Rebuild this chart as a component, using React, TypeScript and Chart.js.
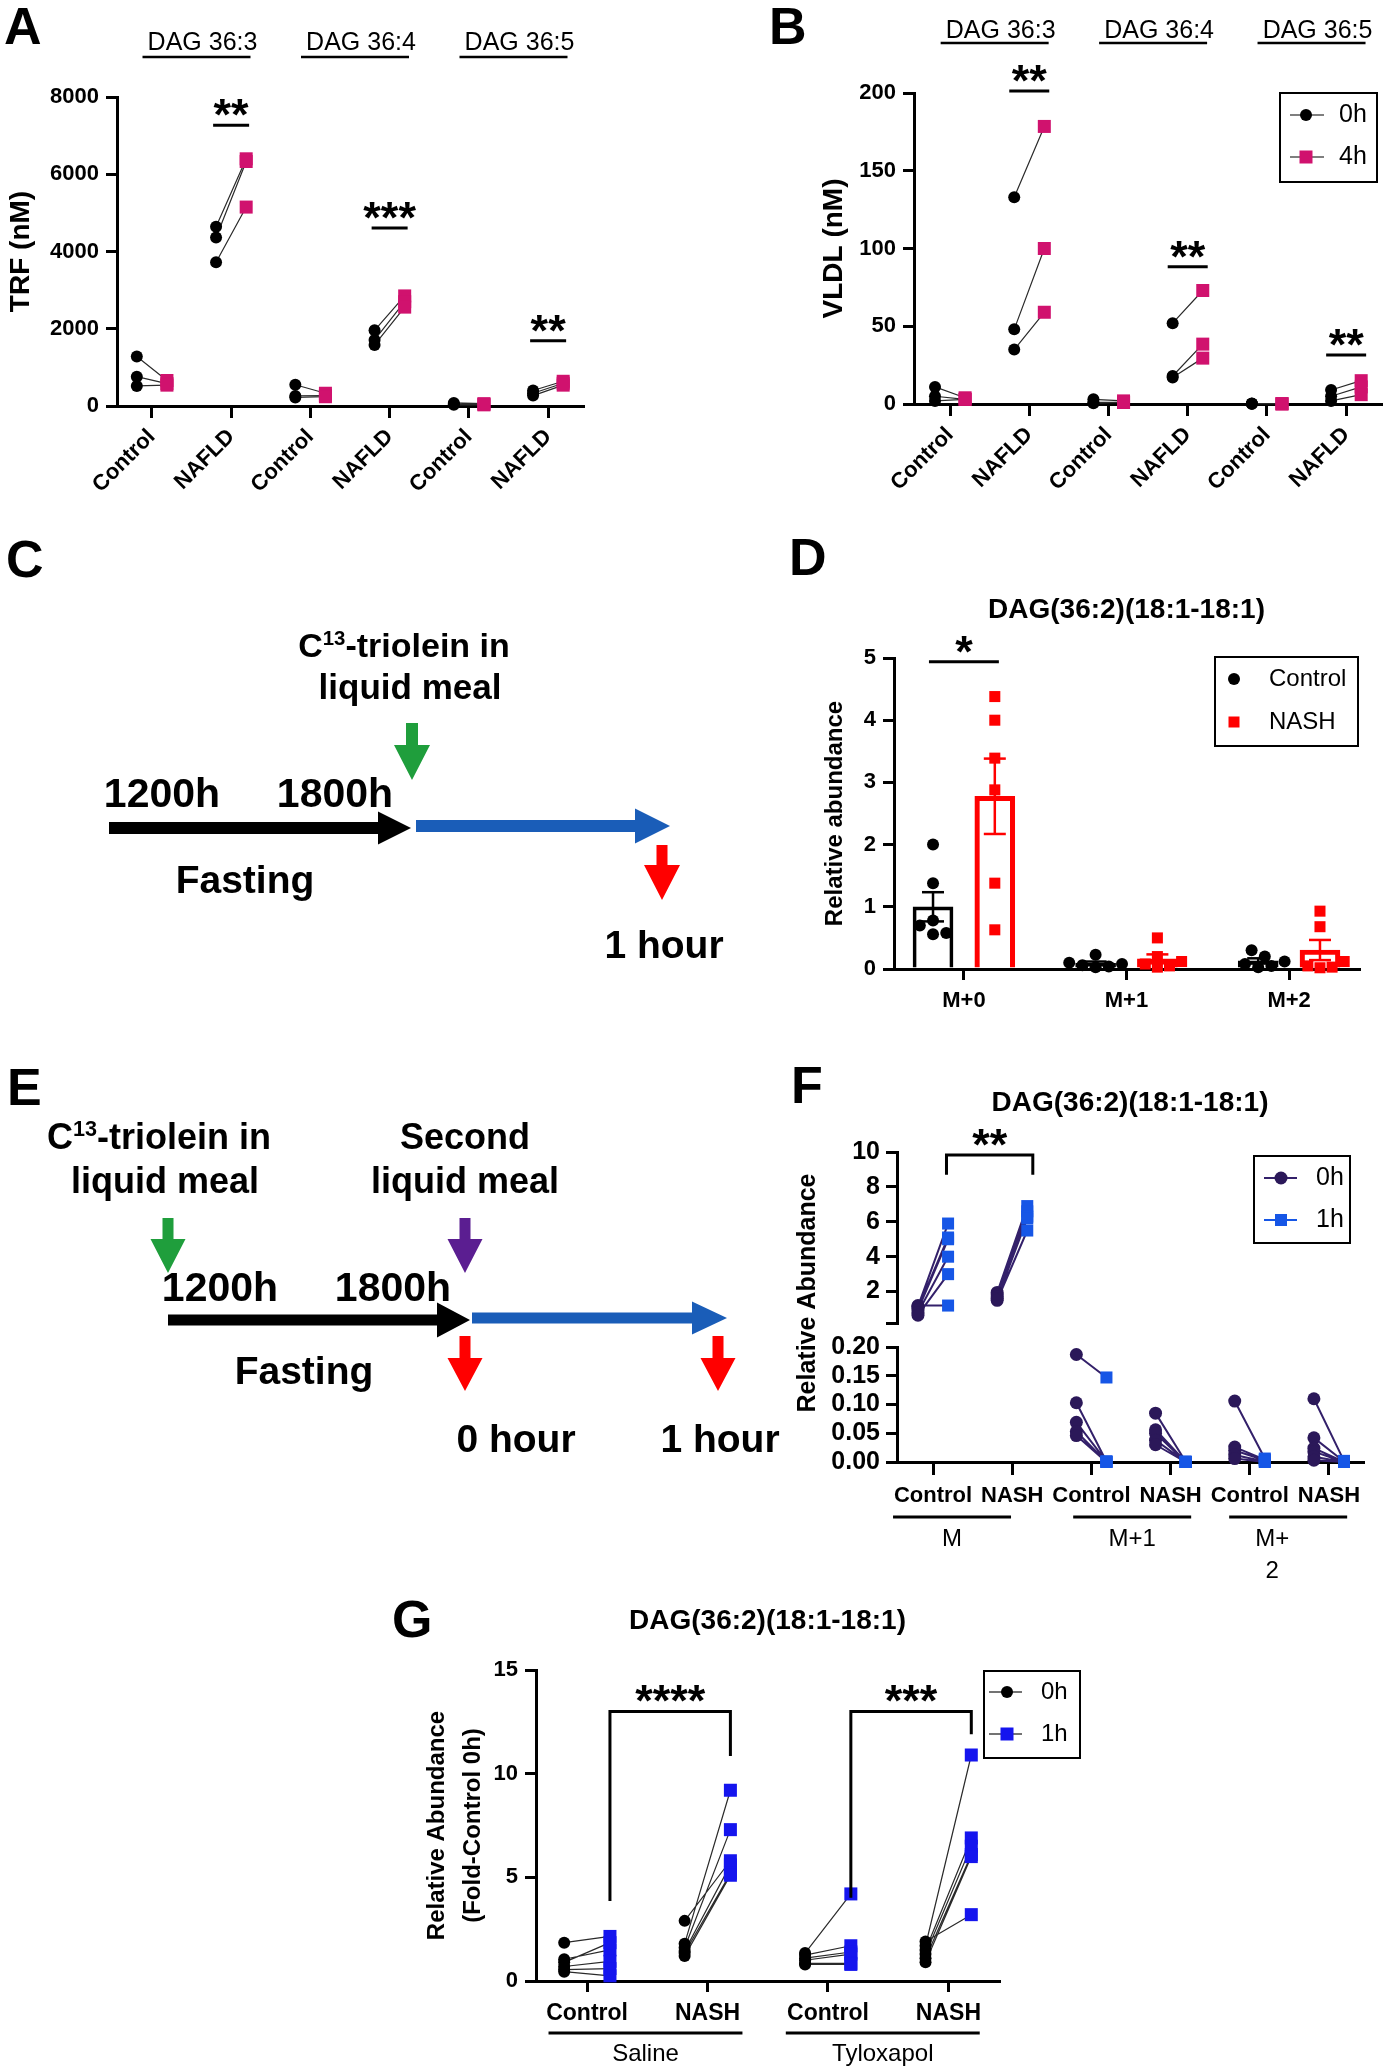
import React, { useEffect, useRef } from 'react';
import { Chart, registerables } from 'chart.js';

Chart.register(...registerables);

const FONT = "'Liberation Sans', Arial, Helvetica, sans-serif";
const MAGENTA = '#D0126E';
const F_DARK = '#2B1859';
const F_LINE = '#33206A';
const F_BLUE = '#1656E6';
const G_BLUE = '#1515EE';
const RED = '#FF0000';

/* ===================== DATA ===================== */
// Panel A – TRF (nM)
const abCategories = ['Control', 'NAFLD', 'Control', 'NAFLD', 'Control', 'NAFLD'];
const abGroups = ['DAG 36:3', 'DAG 36:4', 'DAG 36:5'];
const abSeries = ['0h', '4h'];
const trf0h = [
  [1280, 760, 520],
  [4640, 4360, 3720],
  [550, 260, 220],
  [1960, 1710, 1580],
  [80, 50, 30],
  [400, 330, 270],
];
const trf4h = [
  [660, 580, 540],
  [6400, 6330, 5150],
  [330, 270, 240],
  [2850, 2700, 2560],
  [60, 45, 30],
  [640, 590, 540],
];
const trfTicks = [0, 2000, 4000, 6000, 8000];
const trfSigCategories = [1, 3, 5];
const trfSigLevels = [7270, 4610, 1690];
const trfSigLabels = ['**', '***', '**'];

// Panel B – VLDL (nM)
const vldl0h = [
  [11, 5, 2],
  [133, 48, 35],
  [3, 1, 0.5],
  [52, 18, 17],
  [0.3, 0.2, 0.1],
  [9, 5, 2],
];
const vldl4h = [
  [4, 3, 3],
  [178.5, 100, 59],
  [2, 1, 1],
  [73, 38.5, 29.5],
  [0.2, 0.1, 0.1],
  [15, 11, 6],
];
const vldlTicks = [0, 50, 100, 150, 200];
const vldlSigCategories = [1, 3, 5];
const vldlSigLevels = [201.3, 88.2, 31.5];
const vldlSigLabels = ['**', '**', '**'];

// Panel D – relative abundance (bars = mean ± SEM of points)
const dCategories = ['M+0', 'M+1', 'M+2'];
const dSeries = ['Control', 'NASH'];
const dControl = [
  [2.0, 1.38, 0.78, 0.7, 0.56, 0.58],
  [0.23, 0.1, 0.08, 0.06, 0.04, 0.03],
  [0.3, 0.2, 0.12, 0.08, 0.05, 0.03],
];
const dNash = [
  [4.38, 4.0, 3.39, 2.88, 1.38, 0.63],
  [0.5, 0.2, 0.12, 0.08, 0.05, 0.03],
  [0.93, 0.68, 0.12, 0.05, 0.03, 0.02],
];
const dTicks = [0, 1, 2, 3, 4, 5];
const dSigLevel = 4.94;
const dSigLabel = '*';

// Panel F – broken axis
const fCategories = ['Control', 'NASH', 'Control', 'NASH', 'Control', 'NASH'];
const fGroups = ['M', 'M+1', 'M+2'];
const fSeries = ['0h', '1h'];
const f0h = [
  [1.2, 1.15, 1.05, 0.95, 0.8, 0.65],
  [1.95, 1.8, 1.7, 1.6, 1.5],
  [0.187, 0.103, 0.069, 0.053, 0.046],
  [0.085, 0.056, 0.05, 0.038, 0.03],
  [0.106, 0.026, 0.02, 0.012, 0.006],
  [0.11, 0.042, 0.024, 0.018, 0.009, 0.003],
];
const f1h = [
  [1.2, 5.9, 5.1, 5.0, 4.0, 3.0],
  [6.9, 6.6, 6.3, 6.2, 5.5],
  [0.147, 0.001, 0.001, 0.0, 0.0],
  [0.001, 0.0, 0.0, 0.0, 0.0],
  [0.006, 0.004, 0.003, 0.001, 0.0],
  [0.002, 0.001, 0.0, 0.0, 0.0, 0.0],
];
const fTopTicks = [0.2, 2, 4, 6, 8, 10];
const fBottomTicks = [0, 0.05, 0.1, 0.15, 0.2];
const fSigLevel = 9.83;
const fSigLegLevel = 8.69;
const fSigLabel = '**';

// Panel G
const gCategories = ['Control', 'NASH', 'Control', 'NASH'];
const gGroups = ['Saline', 'Tyloxapol'];
const gSeries = ['0h', '1h'];
const g0h = [
  [1.85, 1.05, 0.9, 0.7, 0.55, 0.45],
  [2.9, 1.8, 1.6, 1.45, 1.35, 1.2],
  [1.35, 1.25, 1.1, 1.0, 0.85, 0.8],
  [1.9, 1.7, 1.5, 1.3, 1.1, 0.9],
];
const g1h = [
  [2.15, 1.5, 1.85, 0.95, 0.6, 0.25],
  [5.8, 9.2, 7.3, 5.6, 5.2, 5.1],
  [4.2, 1.7, 1.4, 1.3, 0.85, 0.8],
  [3.2, 10.9, 6.9, 6.5, 6.1, 6.0],
];
const gTicks = [0, 5, 10, 15];
const gSigFrom = [0, 2];
const gSigTo = [1, 3];
const gSigLevels = [13.0, 13.0];
const gSigLeftLegs = [3.86, 4.02];
const gSigRightLegs = [10.85, 11.9];
const gSigLabels = ['****', '***'];

/* ===================== HELPERS ===================== */
const OFF = 0.19;

const mean = (a: number[]) => a.reduce((s, v) => s + v, 0) / a.length;
const sem = (a: number[]) => {
  const m = mean(a);
  return Math.sqrt(a.reduce((s, v) => s + (v - m) ** 2, 0) / (a.length - 1)) / Math.sqrt(a.length);
};

function setFont(ctx: CanvasRenderingContext2D, size: number, bold = false) {
  ctx.font = `${bold ? 'bold ' : ''}${size}px ${FONT}`;
}
function text(ctx: any, s: string, x: number, y: number, size: number, bold = false,
  align: CanvasTextAlign = 'center', baseline: CanvasTextBaseline = 'middle', color = '#000') {
  ctx.save();
  setFont(ctx, size, bold);
  ctx.fillStyle = color;
  ctx.textAlign = align;
  ctx.textBaseline = baseline;
  ctx.fillText(s, x, y);
  ctx.restore();
}
function seg(ctx: any, x1: number, y1: number, x2: number, y2: number, w = 3, color = '#000') {
  ctx.save();
  ctx.strokeStyle = color;
  ctx.lineWidth = w;
  ctx.beginPath();
  ctx.moveTo(x1, y1);
  ctx.lineTo(x2, y2);
  ctx.stroke();
  ctx.restore();
}
function marker(ctx: any, shape: string, x: number, y: number, size: number, color: string) {
  ctx.save();
  ctx.fillStyle = color;
  ctx.beginPath();
  if (shape === 'circle') ctx.arc(x, y, size / 2, 0, Math.PI * 2);
  else ctx.rect(x - size / 2, y - size / 2, size, size);
  ctx.fill();
  ctx.restore();
}
function stars(ctx: any, label: string, x: number, lineY: number) {
  text(ctx, label, x, lineY + 5, 45, true, 'center', 'alphabetic');
}
function sigLine(ctx: any, cx: number, ly: number, half: number, label: string) {
  seg(ctx, cx - half, ly, cx + half, ly, 3);
  stars(ctx, label, cx, ly);
}
function bracket(ctx: any, x1: number, x2: number, yt: number, yl: number, yr: number, label: string) {
  ctx.save();
  ctx.strokeStyle = '#000';
  ctx.lineWidth = 3;
  ctx.lineJoin = 'miter';
  ctx.beginPath();
  ctx.moveTo(x1, yl);
  ctx.lineTo(x1, yt);
  ctx.lineTo(x2, yt);
  ctx.lineTo(x2, yr);
  ctx.stroke();
  ctx.restore();
  stars(ctx, label, (x1 + x2) / 2, yt);
}
type LegendItem = { label: string; color: string; shape: string; line?: string; lineW?: number };
function drawLegend(ctx: any, box: number[], rows: number[], mx: number, line: number[] | null,
  tx: number, size: number, items: LegendItem[], cSize: number, rSize: number) {
  ctx.save();
  ctx.strokeStyle = '#000';
  ctx.lineWidth = 2;
  ctx.strokeRect(box[0], box[1], box[2], box[3]);
  ctx.restore();
  items.forEach((it, i) => {
    const y = rows[i];
    if (line) seg(ctx, line[0], y, line[1], y, it.lineW ?? 1.5, it.line ?? it.color);
    marker(ctx, it.shape, mx, y, it.shape === 'circle' ? cSize : rSize, it.color);
    text(ctx, it.label, tx, y, size, false, 'left');
  });
}
function groupHeaders(ctx: any, xs: any, groups: string[], textY: number, lineY: number, half: number, size: number) {
  groups.forEach((g, i) => {
    const cx = xs.getPixelForValue(2 * i + 0.5);
    text(ctx, g, cx + 11, textY, size, false);
    seg(ctx, cx + 5 - half, lineY, cx + 5 + half, lineY, 2.5);
  });
}
function groupFooters(ctx: any, xs: any, groups: string[], spans: number[][], lineY: number, textY: number,
  size: number, wrap: boolean[]) {
  groups.forEach((g, i) => {
    const x1 = xs.getPixelForValue(spans[i][0]);
    const x2 = xs.getPixelForValue(spans[i][1]);
    seg(ctx, x1, lineY, x2, lineY, 3);
    const cx = (x1 + x2) / 2;
    if (wrap[i]) {
      text(ctx, g.slice(0, -1), cx - 16, textY, size, false);
      text(ctx, g.slice(-1), cx - 16, textY + 32, size, false);
    } else text(ctx, g, cx, textY, size, false);
  });
}

type XY = { x: number; y: number | null };
function paired(v0: number[][], v1: number[][], pick?: (c: number) => boolean) {
  const p0: XY[] = [];
  const p1: XY[] = [];
  const conn: XY[] = [];
  v0.forEach((grp, c) => {
    if (pick && !pick(c)) return;
    grp.forEach((v, k) => {
      const w = v1[c][k];
      p0.push({ x: c - OFF, y: v });
      if (w !== undefined) {
        p1.push({ x: c + OFF, y: w });
        conn.push({ x: c - OFF, y: v }, { x: c + OFF, y: w }, { x: c, y: null });
      }
    });
  });
  return { p0, p1, conn };
}
function pairedDatasets(v0: number[][], v1: number[][], dot: string, sq: string, lineColor: string,
  lineW: number, cR: number, rR: number, yAxisID = 'y', pick?: (c: number) => boolean) {
  const { p0, p1, conn } = paired(v0, v1, pick);
  return [
    { type: 'scatter', data: p1, yAxisID, pointStyle: 'rect', pointRadius: rR, backgroundColor: sq,
      borderColor: sq, borderWidth: 0, showLine: false, clip: false, order: 1 },
    { type: 'scatter', data: p0, yAxisID, pointStyle: 'circle', pointRadius: cR, backgroundColor: dot,
      borderColor: dot, borderWidth: 0, showLine: false, clip: false, order: 2 },
    { type: 'line', data: conn, yAxisID, borderColor: lineColor, borderWidth: lineW, pointRadius: 0,
      showLine: true, spanGaps: false, fill: false, clip: false, order: 3 },
  ];
}
function swarm(values: number[], center: number, pxX: number, pxY: number, diam: number) {
  const placed: { dx: number; py: number }[] = [];
  const out = values.map(() => center);
  const idx = values.map((_, i) => i).sort((a, b) => values[a] - values[b]);
  const step = diam * 0.55;
  for (const i of idx) {
    const py = values[i] * pxY;
    for (let k = 0; k < 40; k++) {
      const dx = (k % 2 === 1 ? 1 : -1) * Math.ceil(k / 2) * step;
      if (placed.every((p) => (p.dx - dx) ** 2 + (p.py - py) ** 2 >= (diam * 0.95) ** 2)) {
        placed.push({ dx, py });
        out[i] = center + dx / pxX;
        break;
      }
    }
  }
  return out;
}

function xAxis(labels: string[], min: number, max: number, height: number, fontSize: number,
  rotation: number, tickLen: number, pad: number) {
  return {
    type: 'linear', position: 'bottom', min, max, offset: false,
    afterBuildTicks: (s: any) => { s.ticks = labels.map((_, i) => ({ value: i })); },
    afterFit: (s: any) => { s.height = height; },
    ticks: {
      autoSkip: false, minRotation: rotation, maxRotation: rotation, padding: pad, color: '#000',
      font: { family: FONT, size: fontSize, weight: 'bold' },
      callback: (v: number) => labels[v] ?? '',
    },
    grid: { display: true, drawOnChartArea: false, drawTicks: true, tickLength: tickLen, tickWidth: 3,
      tickColor: '#000', lineWidth: 3, color: '#000', offset: false },
    border: { display: true, color: '#000', width: 3 },
  };
}
function yAxis(o: any) {
  return {
    type: 'linear', position: 'left', min: o.min, max: o.max,
    afterBuildTicks: (s: any) => { s.ticks = o.ticks.map((v: number) => ({ value: v })); },
    afterFit: (s: any) => { s.width = o.width; },
    ticks: { autoSkip: false, padding: o.pad ?? 7, color: '#000',
      font: { family: FONT, size: o.fontSize ?? 22, weight: 'bold' }, callback: o.fmt },
    grid: { display: true, drawOnChartArea: false, drawTicks: true, tickLength: o.tickLen ?? 11, tickWidth: 3,
      tickColor: '#000', lineWidth: 3, color: '#000' },
    border: { display: true, color: '#000', width: 3 },
    title: o.title
      ? { display: true, text: o.title, color: '#000',
          font: { family: FONT, size: o.titleSize, weight: 'bold', lineHeight: o.titleLH ?? 1.2 },
          padding: { top: 0, bottom: 0 } }
      : { display: false },
  };
}
function baseOptions(padding: any, scales: any) {
  return {
    responsive: false, maintainAspectRatio: false, animation: false, devicePixelRatio: 1, events: [],
    layout: { padding, autoPadding: false },
    plugins: { legend: { display: false }, tooltip: { enabled: false }, title: { display: false } },
    scales,
  };
}

/* ===================== CHART CONFIGS ===================== */
function makeA() {
  return {
    type: 'scatter',
    data: { datasets: pairedDatasets(trf0h, trf4h, '#000', MAGENTA, '#2a2a2a', 1.2, 6, 9.2) },
    options: baseOptions({ left: 4, top: 97, right: 107, bottom: 0 }, {
      x: xAxis(abCategories, -0.44, 5.44, 104, 22, 45, 12, 6),
      y: yAxis({ min: 0, max: 8000, ticks: trfTicks, width: 113, fmt: (v: number) => String(v),
        title: 'TRF (nM)', titleSize: 28 }),
    }),
    plugins: [{
      id: 'annA',
      afterDraw: (chart: any) => {
        const ctx = chart.ctx; const xs = chart.scales.x; const ys = chart.scales.y;
        groupHeaders(ctx, xs, abGroups, 43, 57, 54, 25);
        trfSigCategories.forEach((c, i) =>
          sigLine(ctx, xs.getPixelForValue(c), ys.getPixelForValue(trfSigLevels[i]), 18, trfSigLabels[i]));
      },
    }],
  };
}

function makeB() {
  return {
    type: 'scatter',
    data: { datasets: pairedDatasets(vldl0h, vldl4h, '#000', MAGENTA, '#2a2a2a', 1.2, 6, 9.2) },
    options: baseOptions({ left: 130, top: 93, right: 4, bottom: 0 }, {
      x: xAxis(abCategories, -0.455, 5.44, 106, 22, 45, 12, 6),
      y: yAxis({ min: 0, max: 200, ticks: vldlTicks, width: 97, fmt: (v: number) => String(v),
        title: 'VLDL (nM)', titleSize: 28 }),
    }),
    plugins: [{
      id: 'annB',
      afterDraw: (chart: any) => {
        const ctx = chart.ctx; const xs = chart.scales.x; const ys = chart.scales.y;
        groupHeaders(ctx, xs, abGroups, 31, 43, 54, 25);
        vldlSigCategories.forEach((c, i) =>
          sigLine(ctx, xs.getPixelForValue(c), ys.getPixelForValue(vldlSigLevels[i]), 20, vldlSigLabels[i]));
        drawLegend(ctx, [593, 93, 97, 89], [115, 157], 619, [603, 637], 652, 25, [
          { label: abSeries[0], color: '#000', shape: 'circle', line: '#555' },
          { label: abSeries[1], color: MAGENTA, shape: 'rect', line: '#555' },
        ], 12, 13);
      },
    }],
  };
}

function makeD() {
  const plotW = 619 - 154, plotH = 454 - 143;
  const xMin = -0.43, xMax = 2.43;
  const pxX = plotW / (xMax - xMin), pxY = plotH / 5;
  const ctrlPts = dControl.flatMap((vals, c) =>
    swarm(vals, c - OFF, pxX, pxY, 12).map((x, k) => ({ x, y: vals[k] })));
  const nashPts = dNash.flatMap((vals, c) =>
    swarm(vals, c + OFF, pxX, pxY, 11).map((x, k) => ({ x, y: vals[k] })));
  const bar = (vals: number[][], off: number) => vals.map((v, c) => ({ x: c + off, y: mean(v) }));
  return {
    type: 'scatter',
    data: {
      datasets: [
        { type: 'scatter', data: nashPts, pointStyle: 'rect', pointRadius: 7.8, backgroundColor: RED,
          borderWidth: 0, clip: false, order: 1 },
        { type: 'scatter', data: ctrlPts, pointStyle: 'circle', pointRadius: 6, backgroundColor: '#000',
          borderWidth: 0, clip: false, order: 2 },
        { type: 'bar', data: bar(dControl, -OFF), backgroundColor: 'rgba(255,255,255,0)', borderColor: '#000',
          borderWidth: 3, barThickness: 40, maxBarThickness: 40, grouped: false, order: 5 },
        { type: 'bar', data: bar(dNash, OFF), backgroundColor: 'rgba(255,255,255,0)', borderColor: RED,
          borderWidth: 4.5, barThickness: 40, maxBarThickness: 40, grouped: false, order: 6 },
      ],
    },
    options: baseOptions({ left: 80.6, top: 143, right: 26, bottom: 0 }, {
      x: xAxis(dCategories, xMin, xMax, 66, 22, 0, 11, 8),
      y: yAxis({ min: 0, max: 5, ticks: dTicks, width: 73.4, fmt: (v: number) => String(v),
        title: 'Relative abundance', titleSize: 24 }),
    }),
    plugins: [{
      id: 'annD',
      afterDraw: (chart: any) => {
        const ctx = chart.ctx; const xs = chart.scales.x; const ys = chart.scales.y; const ca = chart.chartArea;
        text(ctx, 'DAG(36:2)(18:1-18:1)', (ca.left + ca.right) / 2, 95, 28, true);
        ([[dControl, '#000', -OFF], [dNash, RED, OFF]] as any[]).forEach(([vals, color, off]) => {
          vals.forEach((v: number[], c: number) => {
            const m = mean(v), s = sem(v);
            const x = xs.getPixelForValue(c + off);
            const y1 = ys.getPixelForValue(Math.max(0, m - s)), y2 = ys.getPixelForValue(m + s);
            seg(ctx, x, y1, x, y2, 2.5, color);
            seg(ctx, x - 11, y1, x + 11, y1, 2.5, color);
            seg(ctx, x - 11, y2, x + 11, y2, 2.5, color);
          });
        });
        const ly = ys.getPixelForValue(dSigLevel);
        seg(ctx, xs.getPixelForValue(-0.215), ly, xs.getPixelForValue(0.215), ly, 3);
        stars(ctx, dSigLabel, xs.getPixelForValue(0), ly);
        drawLegend(ctx, [475, 142, 143, 89], [164, 207], 494, null, 529, 24, [
          { label: dSeries[0], color: '#000', shape: 'circle' },
          { label: dSeries[1], color: RED, shape: 'rect' },
        ], 12, 11);
      },
    }],
  };
}

function makeF() {
  const upper = (c: number) => Math.floor(c / 2) === 0;
  const datasets = [
    ...pairedDatasets(f0h, f1h, F_DARK, F_BLUE, F_LINE, 2, 6.5, 8.5, 'yTop', upper),
    ...pairedDatasets(f0h, f1h, F_DARK, F_BLUE, F_LINE, 2, 6.5, 8.5, 'yBot', (c) => !upper(c)),
  ];
  const groupSpans = [[-0.505, 0.985], [1.77, 3.26], [3.74, 5.23]];
  return {
    type: 'scatter',
    data: { datasets },
    options: baseOptions({ left: 0, top: 96, right: 22, bottom: 0 }, {
      x: xAxis(fCategories, -0.455, 5.43, 124, 22, 0, 13, 8),
      yTop: { ...yAxis({ min: 0.2, max: 10, ticks: fTopTicks, width: 118, fontSize: 25, pad: 6,
        fmt: (v: number) => (v === 0.2 ? '' : String(v)) }), stack: 'f', stackWeight: 171, weight: 3 },
      yGap: { type: 'linear', position: 'left', display: false, min: 0, max: 1, stack: 'f', stackWeight: 24, weight: 2 },
      yBot: { ...yAxis({ min: 0, max: 0.2, ticks: fBottomTicks, width: 118, fontSize: 25, pad: 6,
        fmt: (v: number) => v.toFixed(2) }), stack: 'f', stackWeight: 115, weight: 1 },
    }),
    plugins: [{
      id: 'annF',
      afterDraw: (chart: any) => {
        const ctx = chart.ctx; const xs = chart.scales.x; const yt = chart.scales.yTop; const ca = chart.chartArea;
        text(ctx, 'DAG(36:2)(18:1-18:1)', (ca.left + ca.right) / 2, 47, 28, true);
        ctx.save();
        ctx.translate(29, 237);
        ctx.rotate(-Math.PI / 2);
        text(ctx, 'Relative Abundance', 0, 0, 25, true);
        ctx.restore();
        const top = yt.getPixelForValue(fSigLevel), leg = yt.getPixelForValue(fSigLegLevel);
        bracket(ctx, xs.getPixelForValue(0.17), xs.getPixelForValue(1.26), top, leg, leg, fSigLabel);
        drawLegend(ctx, [475, 100, 96, 87], [122, 164], 502, [485, 518], 537, 25, [
          { label: fSeries[0], color: F_DARK, shape: 'circle', line: F_LINE, lineW: 2 },
          { label: fSeries[1], color: F_BLUE, shape: 'rect', line: F_BLUE, lineW: 2 },
        ], 13, 12);
        groupFooters(ctx, xs, fGroups, groupSpans, 461, 483, 24, [false, false, true]);
      },
    }],
  };
}

function makeG() {
  const groupSpans = [[-0.32, 1.29], [1.65, 3.26]];
  return {
    type: 'scatter',
    data: { datasets: pairedDatasets(g0h, g1h, '#000', G_BLUE, '#2a2a2a', 1.2, 6, 9.2) },
    options: baseOptions({ left: 36, top: 86, right: 124, bottom: 0 }, {
      x: xAxis(gCategories, -0.424, 3.42, 89, 23, 0, 11, 8),
      y: yAxis({ min: 0, max: 15, ticks: gTicks, width: 117, fmt: (v: number) => String(v),
        title: ['Relative Abundance', '(Fold-Control 0h)'], titleSize: 24, titleLH: 1.5 }),
    }),
    plugins: [{
      id: 'annG',
      afterDraw: (chart: any) => {
        const ctx = chart.ctx; const xs = chart.scales.x; const ys = chart.scales.y; const ca = chart.chartArea;
        text(ctx, 'DAG(36:2)(18:1-18:1)', (ca.left + ca.right) / 2, 37, 28, true);
        gSigLabels.forEach((lab, i) => {
          bracket(ctx, xs.getPixelForValue(gSigFrom[i] + OFF), xs.getPixelForValue(gSigTo[i] + OFF),
            ys.getPixelForValue(gSigLevels[i]), ys.getPixelForValue(gSigLeftLegs[i]),
            ys.getPixelForValue(gSigRightLegs[i]), lab);
        });
        drawLegend(ctx, [601, 87, 96, 87], [108, 150], 624, [606, 639], 658, 24, [
          { label: gSeries[0], color: '#000', shape: 'circle', line: '#444' },
          { label: gSeries[1], color: G_BLUE, shape: 'rect', line: '#444' },
        ], 12, 13);
        groupFooters(ctx, xs, gGroups, groupSpans, 449, 470, 24, [false, false]);
      },
    }],
  };
}

/* ===================== COMPONENTS ===================== */
function ChartCanvas({ left, top, width, height, make }: any) {
  const ref = useRef<HTMLCanvasElement>(null);
  useEffect(() => {
    const chart = new Chart(ref.current as HTMLCanvasElement, make());
    return () => chart.destroy();
  }, []);
  return (
    <canvas ref={ref} width={width} height={height}
      style={{ position: 'absolute', left, top, width, height }} />
  );
}

function Label({ x, y, size, bold = true, anchor = 'center', children }: any) {
  return (
    <div style={{
      position: 'absolute', left: x, top: y,
      transform: anchor === 'center' ? 'translate(-50%, -50%)' : 'translate(0, -50%)',
      fontSize: size, fontWeight: bold ? 700 : 400, lineHeight: 1, whiteSpace: 'nowrap',
      color: '#000', fontFamily: FONT,
    }}>{children}</div>
  );
}

function downArrow(cx: number, y0: number, y1: number, sw: number, hw: number, hh: number) {
  const yh = y1 - hh;
  return `${cx - sw / 2},${y0} ${cx + sw / 2},${y0} ${cx + sw / 2},${yh} ${cx + hw / 2},${yh} ${cx},${y1} ${cx - hw / 2},${yh} ${cx - sw / 2},${yh}`;
}
function rightArrow(x0: number, x1: number, cy: number, sh: number, hh: number, hl: number) {
  const xh = x1 - hl;
  return `${x0},${cy - sh / 2} ${xh},${cy - sh / 2} ${xh},${cy - hh / 2} ${x1},${cy} ${xh},${cy + hh / 2} ${xh},${cy + sh / 2} ${x0},${cy + sh / 2}`;
}

const GREEN = '#1F9E3C';
const ARROW_BLUE = '#1A5DB8';
const PURPLE = '#5B1E91';

function Sup13() {
  return <span style={{ fontSize: '0.6em', position: 'relative', top: '-0.6em' }}>13</span>;
}

function Diagrams() {
  return (
    <>
      <svg width={1385} height={2070} style={{ position: 'absolute', left: 0, top: 0, pointerEvents: 'none' }}>
        {/* Panel C */}
        <polygon points={downArrow(412, 723, 780, 12, 36, 35)} fill={GREEN} />
        <polygon points={rightArrow(109, 411, 828, 12, 33, 33)} fill="#000" />
        <polygon points={rightArrow(416, 670, 826, 12, 35, 35)} fill={ARROW_BLUE} />
        <polygon points={downArrow(662, 845, 900, 11, 36, 35)} fill={RED} />
        {/* Panel E */}
        <polygon points={downArrow(168, 1218, 1273, 11, 35, 34)} fill={GREEN} />
        <polygon points={downArrow(465, 1218, 1273, 11, 35, 34)} fill={PURPLE} />
        <polygon points={rightArrow(168, 470, 1320, 11, 35, 33)} fill="#000" />
        <polygon points={rightArrow(472, 727, 1318, 11, 33, 35)} fill={ARROW_BLUE} />
        <polygon points={downArrow(465, 1336, 1391, 11, 35, 33)} fill={RED} />
        <polygon points={downArrow(718, 1336, 1391, 11, 35, 33)} fill={RED} />
      </svg>
      {/* Panel C text */}
      <Label x={404} y={645} size={34}>C<Sup13 />-triolein in</Label>
      <Label x={410} y={686} size={35}>liquid meal</Label>
      <Label x={162} y={793} size={41}>1200h</Label>
      <Label x={335} y={793} size={41}>1800h</Label>
      <Label x={245} y={879} size={39}>Fasting</Label>
      <Label x={664} y={944} size={39}>1 hour</Label>
      {/* Panel E text */}
      <Label x={159} y={1137} size={36}>C<Sup13 />-triolein in</Label>
      <Label x={165} y={1181} size={36}>liquid meal</Label>
      <Label x={465} y={1137} size={36}>Second</Label>
      <Label x={465} y={1181} size={36}>liquid meal</Label>
      <Label x={220} y={1287} size={41}>1200h</Label>
      <Label x={393} y={1287} size={41}>1800h</Label>
      <Label x={304} y={1370} size={39}>Fasting</Label>
      <Label x={516} y={1438} size={39}>0 hour</Label>
      <Label x={720} y={1438} size={39}>1 hour</Label>
    </>
  );
}

function Letters() {
  const items: [string, number, number][] = [
    ['A', 4, 26], ['B', 769, 26], ['C', 6, 559], ['D', 789, 557],
    ['E', 7, 1087], ['F', 791, 1085], ['G', 392, 1619],
  ];
  return (
    <>
      {items.map(([t, x, y]) => (
        <Label key={t} x={x} y={y} size={52} anchor="left">{t}</Label>
      ))}
    </>
  );
}

export default function App() {
  return (
    <div style={{ position: 'absolute', left: 0, top: 0, width: 1385, height: 2070, background: '#fff',
      overflow: 'hidden', fontFamily: FONT }}>
      <ChartCanvas left={0} top={0} width={690} height={510} make={makeA} />
      <ChartCanvas left={687} top={0} width={698} height={510} make={makeB} />
      <ChartCanvas left={740} top={515} width={645} height={520} make={makeD} />
      <ChartCanvas left={779} top={1056} width={606} height={530} make={makeF} />
      <ChartCanvas left={383} top={1584} width={740} height={486} make={makeG} />
      <Diagrams />
      <Letters />
    </div>
  );
}
